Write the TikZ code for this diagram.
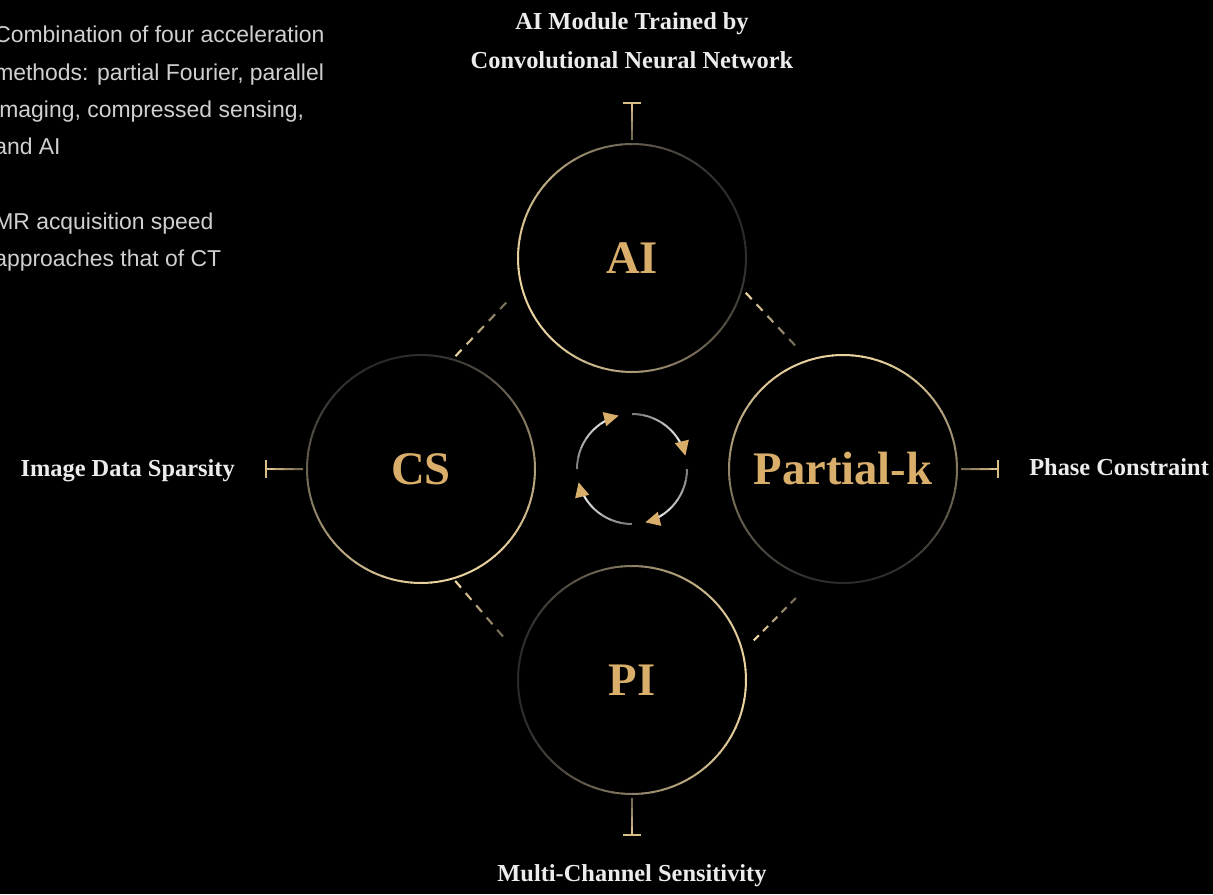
\documentclass[tikz,border=0pt]{standalone}
\usepackage{fontspec}
\setmainfont{Liberation Serif}
\newfontfamily\notefont{Liberation Sans}
\usetikzlibrary{arrows.meta,calc,positioning}

\definecolor{ringlit}{RGB}{236,212,160}
\definecolor{ringdim}{RGB}{42,42,42}
\definecolor{goldtxt}{RGB}{216,174,106}
\definecolor{labeltxt}{RGB}{236,236,236}
\definecolor{notetxt}{RGB}{208,208,208}
\definecolor{bargold}{RGB}{218,190,136}

\begin{document}
\begin{tikzpicture}[x=0.75pt, y=0.75pt,
    method/.style={font=\bfseries\fontsize{35}{42}\selectfont, text=goldtxt, inner sep=0pt},
    factor/.style={font=\bfseries\fontsize{18.3}{28.9}\selectfont, text=labeltxt, inner sep=0pt},
    note/.style={font=\notefont\fontsize{17.2}{26}\selectfont, text=notetxt, anchor=base west, inner sep=0pt},
    ring/.style={line width=1.5pt},
    dashpiece/.style={line width=1.6pt},
    tline/.style={line width=1.5pt},
    hubarc/.style={line width=1.5pt}]

    % Background and frame
    \fill[black] (0,0) rectangle (1213,894);
    \clip (0,0) rectangle (1213,894);

    % Four acceleration methods
    \node[method] (AI) at (632,636) {AI};
    \node[method] (CS) at (421,425) {CS};
    \node[method] (PK) at (843,425) {Partial-k};
    \node[method] (PI) at (632,214) {PI};

    % Rings, bright on one side and fading on the other
    \foreach \n/\b in {AI/200, CS/290, PK/95, PI/0} {
        \foreach \a in {0,5,...,355} {
            \pgfmathtruncatemacro\p{50+50*cos(\a+2.5-\b)}
            \draw[ring, ringlit!\p!ringdim] ($(\n.center)+(\a:114)$) arc[start angle=\a, end angle=\a+5.5, radius=114];
        }
    }

    % Dashed links between neighbouring rings
    \coordinate (dA1) at ($(CS.center)+(73:118)$);
    \coordinate (dA2) at ($(AI.center)+(198:127)$);
    \coordinate (dB1) at ($(AI.center)+(343:119)$);
    \coordinate (dB2) at ($(PK.center)+(110:126)$);
    \coordinate (dC1) at ($(CS.center)+(287:117)$);
    \coordinate (dC2) at ($(PI.center)+(163:130)$);
    \coordinate (dD1) at ($(PI.center)+(18:128)$);
    \coordinate (dD2) at ($(PK.center)+(251:132)$);
    \foreach \d in {A,B,C,D} {
        \foreach \i in {0,...,4} {
            \pgfmathtruncatemacro\p{100-15*\i}
            \draw[dashpiece, ringlit!\p!ringdim] ($(d\d1)!\i/5!(d\d2)$) -- ($(d\d1)!\i/5+0.11!(d\d2)$);
        }
    }

    % Cycle arrows in the middle
    \coordinate (hub) at (632,425);
    \foreach \e in {104,14,-76,-166} {
        \foreach \k in {0,...,5} {
            \pgfmathtruncatemacro\p{40+10*\k}
            \draw[hubarc, white!\p!ringdim] ($(hub)+(\e+76-11*\k:55)$) arc[start angle=\e+76-11*\k, end angle=\e+65-11*\k, radius=55];
        }
        \draw[hubarc, white!85!ringdim, -{Triangle[length=11pt, width=10.5pt, color=goldtxt]}] ($(hub)+(\e+10:55)$) arc[start angle=\e+10, end angle=\e, radius=55];
    }

    % Bars out to the driving factors
    \foreach \n/\d in {AI/90, CS/180, PK/0, PI/270} {
        \coordinate (s\n) at ($(\n.center)+(\d:118)$);
        \coordinate (b\n) at ($(\n.center)+(\d:156)$);
        \foreach \k in {0,...,2} {
            \pgfmathtruncatemacro\p{45+18*\k}
            \draw[tline, bargold!\p!ringdim] ($(s\n)!\k/4!(b\n)$) -- ($(s\n)!\k/4+0.26!(b\n)$);
        }
        \draw[tline, bargold, -{Bar[width=13.5pt]}] ($(s\n)!0.75!(b\n)$) -- (b\n);
    }

    % Factor labels
    \node[factor, align=center, anchor=south] (fAI) at ($(bAI)+(0,33)$) {AI Module Trained by\\Convolutional Neural Network};
    \node[factor, anchor=base east] (fCS) at ($(bCS)+(-30,-7.5)$) {Image Data Sparsity};
    \node[factor, anchor=base west] (fPK) at ($(bPK)+(30,-6.5)$) {Phase Constraint};
    \node[factor, anchor=base] (fPI) at ($(bPI)+(0,-45)$) {Multi-Channel Sensitivity};

    % Side notes
    \foreach \y/\t [count=\i] in {851/Combination of four acceleration,
            813/{methods: partial Fourier, parallel},
            776/{imaging, compressed sensing,},
            739/and AI,
            664/MR acquisition speed,
            627/approaches that of CT}
        \node[note] (note\i) at (-6,\y) {\t};

\end{tikzpicture}
\end{document}
